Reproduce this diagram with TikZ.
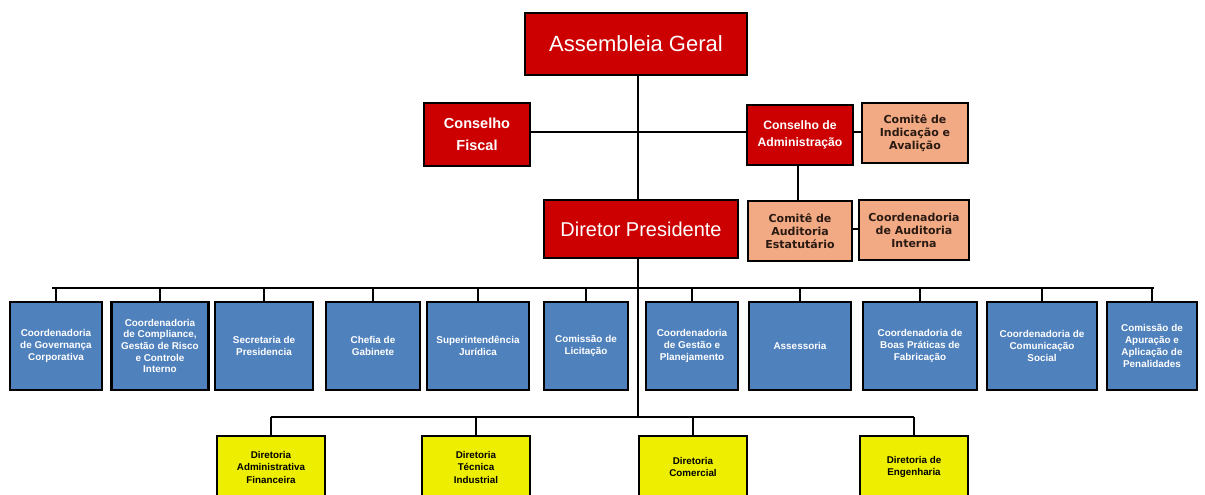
\documentclass[tikz,border=0pt]{standalone}
\usepackage{fontspec}
\setmainfont{Liberation Sans}
\newfontfamily\djv{DejaVu Sans}
\definecolor{boxred}{HTML}{CC0000}
\definecolor{boxblue}{HTML}{4F81BD}
\definecolor{boxsalmon}{HTML}{F2AA84}
\definecolor{boxyellow}{HTML}{EEEE00}
\definecolor{darktext}{HTML}{2A1A12}
\tikzset{
  base/.style={draw=black, line width=2.3pt, inner sep=0pt, outer sep=0pt, align=center},
  redbig/.style={base, fill=boxred, text=white, font=\fontsize{22}{26}\selectfont},
  redmid/.style={base, fill=boxred, text=white, font=\bfseries\fontsize{14.5}{22}\selectfont},
  redsmall/.style={base, fill=boxred, text=white, font=\bfseries\fontsize{12.2}{17}\selectfont},
  salmonbox/.style={base, fill=boxsalmon, text=darktext, font=\djv\bfseries\fontsize{11}{13}\selectfont},
  bluebox/.style={base, fill=boxblue, text=white, font=\bfseries\fontsize{9.9}{11.7}\selectfont, minimum height=88pt},
  yellowbox/.style={base, fill=boxyellow, text=black, font=\bfseries\fontsize{9.8}{12.5}\selectfont, minimum height=62pt, minimum width=108pt},
  conn/.style={draw=black, line width=2pt}
}
\begin{document}
\begin{tikzpicture}[x=1pt,y=-1pt]
\useasboundingbox[fill=white] (0,0) rectangle (1205,495);
\coordinate (busB) at (0,288);
\coordinate (busY) at (0,417);
\coordinate (hA) at (0,132);
\coordinate (hB) at (0,229);

% top red
\node[redbig, minimum width=222pt, minimum height=62pt] (ag) at (636,44) {Assembleia Geral};
\node[redmid, minimum width=106pt, minimum height=63pt] (cf) at (477,134.5) {Conselho\\Fiscal};
\node[redsmall, minimum width=106pt, minimum height=60pt] (ca) at (800,135) {Conselho de\\Administração};
\node[salmonbox, minimum width=106pt, minimum height=60pt] (ci) at (915,133) {Comitê de\\Indicação e\\Avalição};
\node[redbig, font=\fontsize{20}{24}\selectfont, minimum width=194pt, minimum height=58pt] (dp) at (641,229) {Diretor Presidente};
\node[salmonbox, minimum width=104pt, minimum height=60pt] (cae) at (800,231) {Comitê de\\Auditoria\\Estatutário};
\node[salmonbox, minimum width=110pt, minimum height=60pt] (cai) at (914,230) {Coordenadoria\\de Auditoria\\Interna};

% blue row
\node[bluebox, minimum width=92pt] (b1) at (56,346) {Coordenadoria\\de Governança\\Corporativa};
\node[bluebox, minimum width=97pt] (b2) at (160,346) {Coordenadoria\\de Compliance,\\Gestão de Risco\\e Controle\\Interno};
\node[bluebox, minimum width=98pt] (b3) at (264,346) {Secretaria de\\Presidencia};
\node[bluebox, minimum width=94pt] (b4) at (373,346) {Chefia de\\Gabinete};
\node[bluebox, minimum width=102pt] (b5) at (478,346) {Superintendência\\Jurídica};
\node[bluebox, minimum width=84pt] (b6) at (586,346) {Comissão de\\Licitação};
\node[bluebox, minimum width=92pt] (b7) at (692,346) {Coordenadoria\\de Gestão e\\Planejamento};
\node[bluebox, minimum width=102pt] (b8) at (800,346) {Assessoria};
\node[bluebox, minimum width=114pt] (b9) at (920,346) {Coordenadoria de\\Boas Práticas de\\Fabricação};
\node[bluebox, minimum width=110pt] (b10) at (1042,346) {Coordenadoria de\\Comunicação\\Social};
\node[bluebox, minimum width=90pt] (b11) at (1152,346) {Comissão de\\Apuração e\\Aplicação de\\Penalidades};

% yellow row
\node[yellowbox] (y1) at (271,467) {Diretoria\\Administrativa\\Financeira};
\node[yellowbox] (y2) at (476,467) {Diretoria\\Técnica\\Industrial};
\node[yellowbox] (y3) at (693,467) {Diretoria\\Comercial};
\node[yellowbox] (y4) at (914,467) {Diretoria de\\Engenharia};

% connectors
\draw[conn] ([xshift=2pt]ag.south) -- ([xshift=2pt]ag.south |- dp.north);
\draw[conn] ([xshift=2pt]ag.south |- dp.south) -- ([xshift=2pt]ag.south |- busY);
\draw[conn] (cf.east |- hA) -- (ca.west |- hA);
\draw[conn] (ca.east |- hA) -- (ci.west |- hA);
\draw[conn] ([xshift=-2pt]ca.south) -- ([xshift=-2pt]cae.north);
\draw[conn] (cae.east |- hB) -- (cai.west |- hB);
% blue bus
\draw[conn] ([xshift=-4pt]b1.north |- busB) -- ([xshift=2pt]b11.north |- busB);
\foreach \n in {b1,b2,b3,b4,b5,b6,b7,b8,b9,b10,b11}
  \draw[conn] (\n.north) -- (\n.north |- busB);
% yellow bus
\draw[conn] (y1.north |- busY) -- (y4.north |- busY);
\foreach \n in {y1,y2,y3,y4}
  \draw[conn] (\n.north) -- (\n.north |- busY);
\end{tikzpicture}
\end{document}
